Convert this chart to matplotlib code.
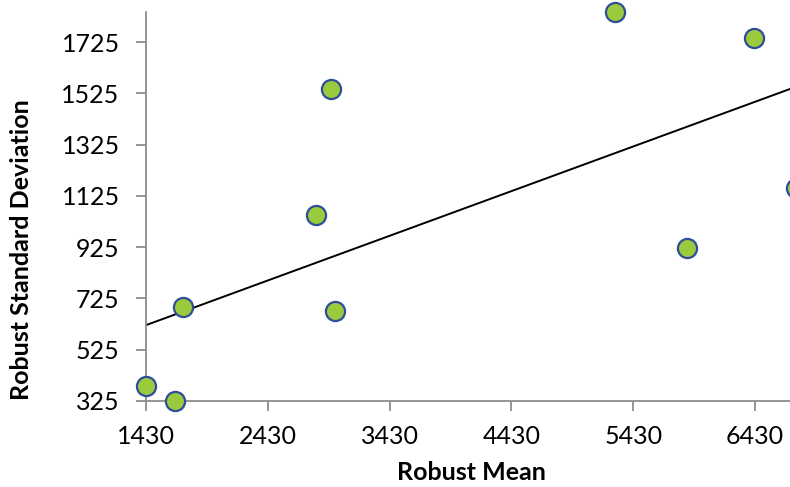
import numpy as np
import matplotlib.pyplot as plt

# robust statistics per lab
robust_mean = [1430, 1668, 1734, 2826, 2949, 2982, 5281, 5872, 6422, 6768]
robust_sd = [383, 325, 691, 1050, 1541, 676, 1842, 922, 1740, 1155]

x_ticks = [1430, 2430, 3430, 4430, 5430, 6430]
y_ticks = [325, 525, 725, 925, 1125, 1325, 1525, 1725]

plt.rcParams['font.family'] = ['Lato', 'DejaVu Sans']

W, H = 790, 487
fig = plt.figure(figsize=(W / 100, H / 100), dpi=100)
# plot area runs off the right edge of the picture, like the cropped original
ax = fig.add_axes([146 / W, 1 - 401 / H, (790 - 146) / W, (401 - 12) / H])

x = np.array(robust_mean, dtype=float)
y = np.array(robust_sd, dtype=float)

x0, x1 = 1430, 6717
y0, y1 = 325, 1842

slope, icpt = np.polyfit(x, y, 1)
xs = np.array([x0, x1])
ax.plot(xs, slope * xs + icpt, color='black', lw=1.4, zorder=2)

ax.scatter(x, y, s=190, facecolor='#9ACB3C', edgecolor='#2F4D9A',
           linewidth=1.6, zorder=3, clip_on=False)

ax.set_xlim(x0, x1)
ax.set_ylim(y0, y1)
ax.set_xticks(x_ticks)
ax.set_yticks(y_ticks)

for s in ['top', 'right']:
    ax.spines[s].set_visible(False)
for s in ['left', 'bottom']:
    ax.spines[s].set_color('#8C8C8C')
    ax.spines[s].set_linewidth(1.3)

ax.tick_params(direction='out', length=7, width=1.3, color='#8C8C8C',
               labelsize=18, labelcolor='black')
ax.tick_params(axis='x', pad=10)
ax.tick_params(axis='y', pad=12)

fig.text(471 / W, 1 - 473 / H, 'Robust Mean', fontsize=18, fontweight='bold',
         ha='center', va='center')
fig.text(22 / W, 1 - 250 / H, 'Robust Standard Deviation', fontsize=18,
         fontweight='bold', rotation=90, ha='center', va='center')

fig.savefig('out.png', dpi=100)
